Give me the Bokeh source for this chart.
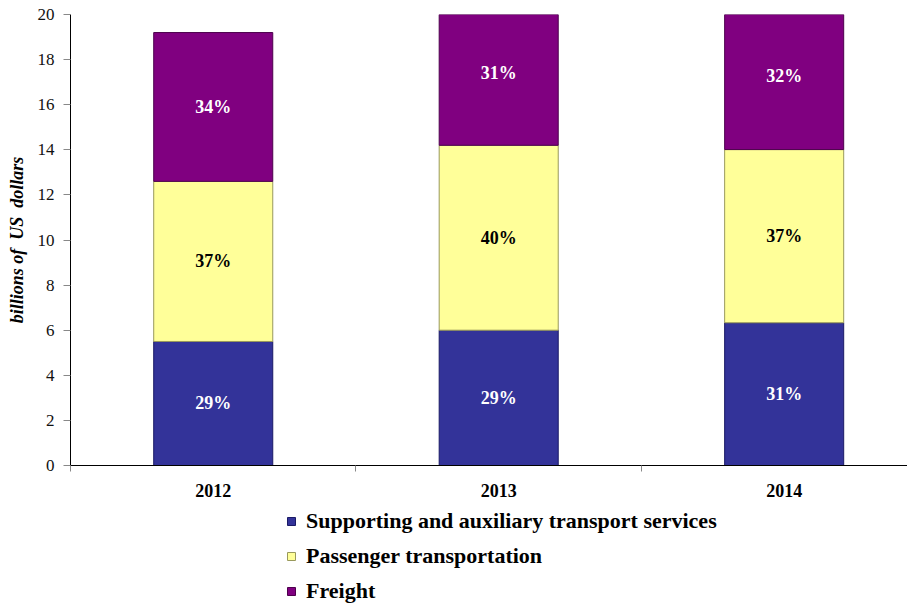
from bokeh.plotting import figure
from bokeh.layouts import column
from bokeh.models import ColumnDataSource, Range1d, FixedTicker, Legend, LegendItem
from bokeh.core.properties import value
from bokeh.embed import file_html
from bokeh.resources import INLINE

years = ["2012", "2013", "2014"]
supporting = [5.5, 6.0, 6.33]
passenger = [7.1, 8.2, 7.68]
freight = [6.6, 6.4, 6.5]
supporting_pct = ["29%", "29%", "31%"]
passenger_pct = ["37%", "40%", "37%"]
freight_pct = ["34%", "31%", "32%"]
series_names = ["Supporting and auxiliary transport services", "Passenger transportation", "Freight"]

FONT = "Liberation Serif"
xs = [i + 0.5 for i in range(len(years))]

src = ColumnDataSource(dict(x=xs, supporting=supporting, passenger=passenger, freight=freight))

p = figure(width=907, height=500, output_backend="svg", toolbar_location=None,
           x_range=Range1d(0, 2.932), y_range=Range1d(0, 20),
           min_border_left=70, min_border_top=14, min_border_right=0, min_border_bottom=35)
p.outline_line_color = None
p.xgrid.grid_line_color = None
p.ygrid.grid_line_color = None

colors = ["#333399", "#FFFF99", "#800080"]
edges = ["#1a1a66", "#99995c", "#4d004d"]
renderers = p.vbar_stack(["supporting", "passenger", "freight"], x="x", width=0.417,
                         source=src, fill_color=colors, line_color=edges, line_width=1)

# labels
b1 = [0.0] * 3
b2 = supporting
b3 = [s + q for s, q in zip(supporting, passenger)]
for vals, bots, labs, col in [(supporting, b1, supporting_pct, "white"),
                              (passenger, b2, passenger_pct, "black"),
                              (freight, b3, freight_pct, "white")]:
    ys = [b + v / 2 for b, v in zip(bots, vals)]
    p.text(x=xs, y=ys, text=labs, text_align="center", text_baseline="middle",
           text_font=value(FONT), text_font_style="bold", text_font_size="18px", text_color=col)

# x axis
p.xaxis.ticker = FixedTicker(ticks=xs, minor_ticks=list(range(len(years) + 1)))
p.xaxis.major_label_overrides = {x: y for x, y in zip(xs, years)}
p.xaxis.major_tick_out = 0
p.xaxis.major_tick_in = 0
p.xaxis.minor_tick_out = 6
p.xaxis.minor_tick_in = 0
p.xaxis.minor_tick_line_color = "#888888"
p.xaxis.axis_line_color = "black"
p.xaxis.major_label_text_font = FONT
p.xaxis.major_label_text_font_style = "bold"
p.xaxis.major_label_text_font_size = "18px"
p.xaxis.major_label_text_color = "black"
p.xaxis.major_label_standoff = 12

# y axis
p.yaxis.ticker = FixedTicker(ticks=list(range(0, 21, 2)))
p.yaxis.minor_tick_line_color = None
p.yaxis.major_tick_out = 7
p.yaxis.major_tick_in = 0
p.yaxis.axis_line_color = "black"
p.yaxis.major_tick_line_color = "#888888"
p.yaxis.major_label_text_font = FONT
p.yaxis.major_label_text_font_size = "17px"
p.yaxis.major_label_text_color = "#111111"
p.yaxis.major_label_standoff = 9
p.yaxis.axis_label = "billions of\u00a0 US\u00a0 dollars"
p.yaxis.axis_label_text_font = FONT
p.yaxis.axis_label_text_font_style = "bold italic"
p.yaxis.axis_label_text_font_size = "18px"
p.yaxis.axis_label_text_color = "black"
p.yaxis.axis_label_standoff = 8

# legend panel below the chart (its frame is aligned with the chart frame)
lf = figure(width=907, height=104, output_backend="svg", toolbar_location=None,
            x_range=Range1d(0, 1), y_range=Range1d(0, 1),
            min_border_left=0, min_border_right=0, min_border_top=0, min_border_bottom=0)
lf.axis.visible = False
lf.grid.visible = False
lf.outline_line_color = None
dummies = [lf.vbar(x=[5], top=[5], width=0.1, fill_color=c, line_color=e) for c, e in zip(colors, edges)]

legend = Legend(items=[LegendItem(label=n, renderers=[r]) for n, r in zip(series_names, dummies)],
                orientation="vertical", location=(216, 0))
legend.label_text_font = FONT
legend.label_text_font_style = "bold"
legend.label_text_font_size = "22px"
legend.label_text_color = "black"
legend.glyph_width = 10
legend.glyph_height = 10
legend.spacing = 9
legend.label_height = 22
legend.label_standoff = 10
legend.padding = 0
legend.margin = 0
legend.border_line_color = None
legend.background_fill_alpha = 0
lf.add_layout(legend, "center")

layout = column(p, lf, spacing=0)
open("out.html", "w").write(file_html(layout, INLINE))
